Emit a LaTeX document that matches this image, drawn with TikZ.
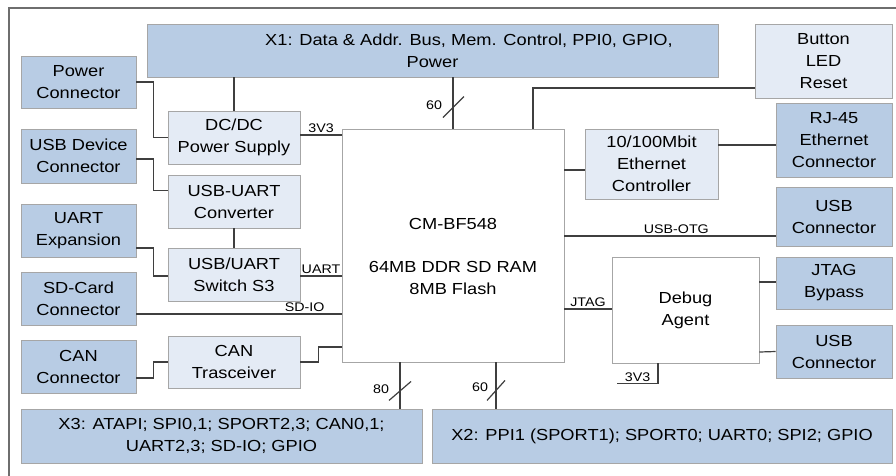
\documentclass[tikz,border=0pt]{standalone}
\usepackage{fontspec}
\setmainfont{Liberation Sans}[FakeStretch=1.14]
\usepackage{tikz}
\usetikzlibrary{positioning, calc}

\definecolor{conblue}{HTML}{B8CCE4}
\definecolor{unitblue}{HTML}{E4EBF5}
\definecolor{edgegray}{HTML}{A6A6A6}
\definecolor{wiregray}{HTML}{3F3F3F}
\definecolor{framegray}{HTML}{6E6E6E}

\begin{document}
\begin{tikzpicture}[x=1pt, y=-1pt,
        box/.style={draw=edgegray, line width=0.9pt, inner sep=0pt, align=center,
            font=\fontsize{16}{22}\selectfont},
        conbox/.style={box, fill=conblue},
        unitbox/.style={box, fill=unitblue},
        chipbox/.style={box, fill=white},
        wire/.style={draw=wiregray, line width=1.2pt},
        sig_label/.style={font=\fontsize{12.5}{14}\selectfont, inner sep=1.5pt}]

        \useasboundingbox (0,0) rectangle (896,475);
        \begin{scope}
        \clip (0,0) rectangle (896,475);
        \draw[framegray, line width=1.8pt] (9,490) -- (9,8) -- (910,8);
        \end{scope}

        % Connectors on the left
        \node[conbox, minimum width=115pt, minimum height=52pt] (pwrcon) at (78.5,82) {Power\\Connector};
        \node[conbox, minimum width=115pt, minimum height=54pt] (usbdev) at (78.5,156) {USB Device\\Connector};
        \node[conbox, minimum width=115pt, minimum height=53pt] (uartexp) at (78.5,230.5) {UART\\Expansion};
        \node[conbox, minimum width=115pt, minimum height=53pt] (sdcon) at (78.5,298.5) {SD-Card\\Connector};
        \node[conbox, minimum width=115pt, minimum height=53pt] (cancon) at (78.5,366.5) {CAN\\Connector};

        % Units between connectors and module
        \node[unitbox, minimum width=132pt, minimum height=53pt] (dcdc) at (234,137.5) {DC/DC\\Power Supply};
        \node[unitbox, minimum width=132pt, minimum height=53pt] (usbuart) at (234,201.5) {USB-UART\\Converter};
        \node[unitbox, minimum width=132pt, minimum height=53pt] (switch) at (234,274.5) {USB/UART\\Switch S3};
        \node[unitbox, minimum width=132pt, minimum height=52pt] (cantr) at (234,362) {CAN\\Trasceiver};

        % Module
        \node[chipbox, minimum width=222pt, minimum height=233pt] (cpu) at (453,245.5)
            {\rule{0pt}{33pt}CM-BF548\\[21pt]64MB DDR SD RAM\\8MB Flash};

        % Expansion headers
        \node[conbox, minimum width=571pt, minimum height=53pt] (x1) at (432.5,50.5)
            {\hspace*{73pt}X1: Data \& Addr. Bus, Mem. Control, PPI0, GPIO,\\Power};
        \node[conbox, minimum width=401pt, minimum height=54pt] (x3) at (221.5,436)
            {X3: ATAPI; SPI0,1; SPORT2,3; CAN0,1;\\UART2,3; SD-IO; GPIO};
        \node[conbox, minimum width=460pt, minimum height=54pt] (x2) at (662,436)
            {X2: PPI1 (SPORT1); SPORT0; UART0; SPI2; GPIO};

        % Right side
        \node[unitbox, minimum width=137pt, minimum height=74pt] (btn) at (823.5,61) {Button\\LED\\Reset};
        \node[unitbox, minimum width=133pt, minimum height=70pt] (eth) at (651.5,164) {10/100Mbit\\Ethernet\\Controller};
        \node[conbox, minimum width=116pt, minimum height=74pt] (rj45) at (834,140) {RJ-45\\Ethernet\\Connector};
        \node[conbox, minimum width=116pt, minimum height=59pt] (usbotg) at (834,216.5) {USB\\Connector};
        \node[chipbox, minimum width=147pt, minimum height=106pt] (dbg) at (685.5,310) {Debug\\Agent};
        \node[conbox, minimum width=116pt, minimum height=52pt] (jtagbyp) at (834,283) {JTAG\\Bypass};
        \node[conbox, minimum width=116pt, minimum height=53pt] (usbdbg) at (834,351.5) {USB\\Connector};

        % Left wiring
        \draw[wire] (pwrcon.east) -- ++(17,0) |- (dcdc.west);
        \draw[wire] (dcdc.north) -- (dcdc.north |- x1.south);
        \draw[wire] ($(dcdc.east)+(0,-2.5)$) -- node[sig_label, above] {3V3} ($(dcdc.east -| cpu.west)+(0,-2.5)$);
        \draw[wire] ($(usbdev.east)+(0,3)$) -- ++(17,0) |- ($(usbuart.west)+(0,-11)$);
        \draw[wire] (usbuart.south) -- (switch.north);
        \draw[wire] ($(uartexp.east)+(0,17.5)$) -- ++(17,0) |- ($(switch.west)+(0,1.5)$);
        \draw[wire] ($(switch.east)+(0,1.5)$) -- node[sig_label, above] {UART} ($(switch.east -| cpu.west)+(0,1.5)$);
        \draw[wire] ($(sdcon.east)+(0,15.5)$) -- node[sig_label, above, pos=0.82] {SD-IO} ($(sdcon.east -| cpu.west)+(0,15.5)$);
        \draw[wire] ($(cancon.east)+(0,11.5)$) -- ++(17,0) |- (cantr.west);
        \draw[wire] (cantr.east) -- ++(18,0) |- ($(cpu.west |- cantr.east)+(0,-15)$);

        % Buses
        \coordinate (bus_x1) at (cpu.north);
        \coordinate (bus_x3) at ($(cpu.south)+(-53,0)$);
        \coordinate (bus_x2) at ($(cpu.south)+(43,0)$);
        \draw[wire] (bus_x1) -- (bus_x1 |- x1.south);
        \draw[wire] ($(bus_x1)+(-10,-11)$) -- ++(21,-21);
        \node[sig_label] (n60top) at ($(bus_x1)+(-19,-23)$) {60};
        \draw[wire] (bus_x3) -- (bus_x3 |- x3.north);
        \draw[wire] ($(bus_x3)+(-11,38)$) -- ++(22,-19);
        \node[sig_label] (n80) at ($(bus_x3)+(-19,27)$) {80};
        \draw[wire] (bus_x2) -- (bus_x2 |- x2.north);
        \draw[wire] ($(bus_x2)+(-9,38)$) -- ++(18,-20);
        \node[sig_label] (n60bot) at ($(bus_x2)+(-16,25)$) {60};

        % Right wiring
        \draw[wire] ($(cpu.north)+(80,0)$) |- ($(btn.west)+(0,27)$);
        \draw[wire] ($(cpu.east)+(0,-75.5)$) -- ($(eth.west)+(0,6)$);
        \draw[wire] ($(eth.east)+(0,-19)$) -- ($(rj45.west)+(0,5)$);
        \draw[wire] ($(cpu.east)+(0,-9.5)$) -- node[sig_label, above, pos=0.53] {USB-OTG} ($(usbotg.west)+(0,19.5)$);
        \draw[wire] ($(dbg.west)+(0,-1)$) -- node[sig_label, above] {JTAG} ($(dbg.west -| cpu.east)+(0,-1)$);
        \draw[wire] ($(dbg.east)+(0,-28)$) -- ($(jtagbyp.west)+(0,-1)$);
        \draw[wire] ($(dbg.east)+(0,42)$) -- (usbdbg.west);
        \coordinate (v33) at ($(dbg.south)+(-68.5,20)$);
        \draw[wire] ($(dbg.south)+(-27.5,0)$) |- node[sig_label, above, pos=0.75] {3V3} (v33);
\end{tikzpicture}
\end{document}
